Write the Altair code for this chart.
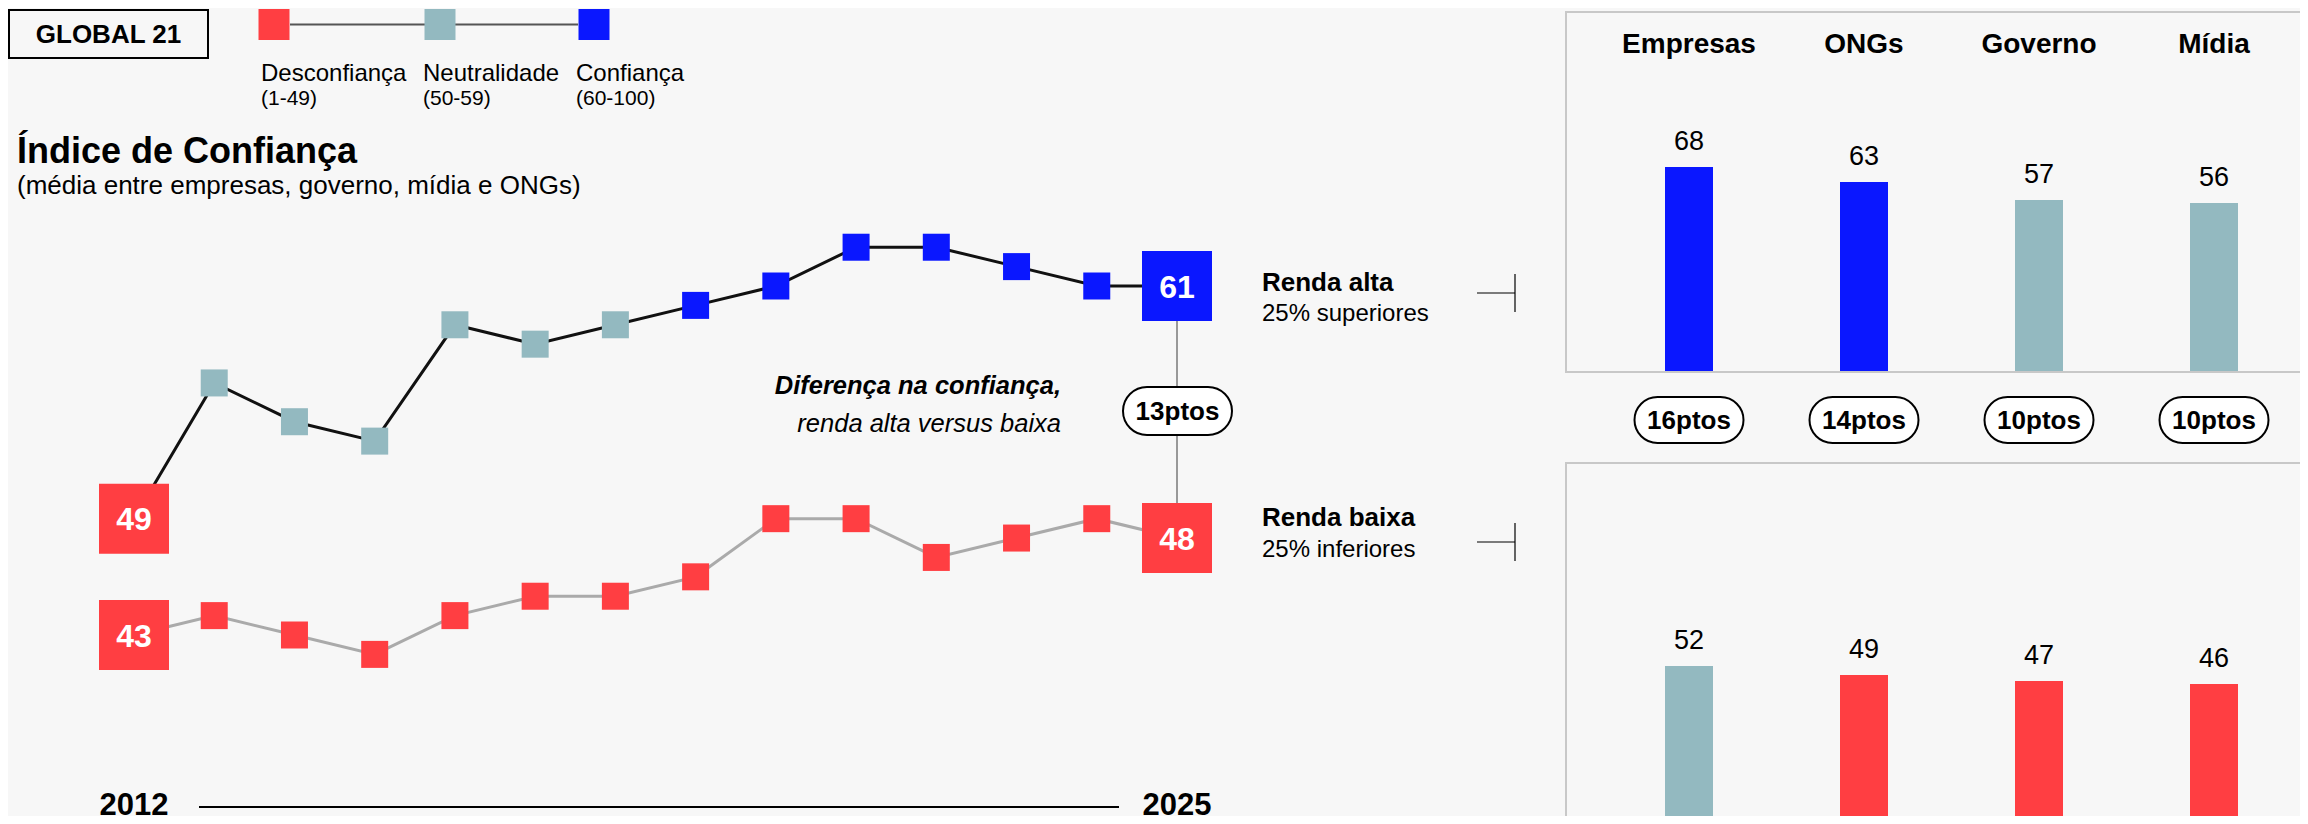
import altair as alt
import pandas as pd

# ---------------- data ----------------
anos = list(range(2012, 2026))
renda_alta = [49, 56, 54, 53, 59, 58, 59, 60, 61, 63, 63, 62, 61, 61]
renda_baixa = [43, 44, 43, 42, 44, 45, 45, 46, 49, 49, 47, 48, 49, 48]

instituicoes = ["Empresas", "ONGs", "Governo", "Mídia"]
alta_inst = [68, 63, 57, 56]
baixa_inst = [52, 49, 47, 46]
diferenca_inst = [16, 14, 10, 10]

categorias = ["Desconfiança", "Neutralidade", "Confiança"]
faixas = ["(1-49)", "(50-59)", "(60-100)"]
cores = ["#ff3e42", "#93b9c0", "#0a17ff"]

# ---------------- style ----------------
FONT = "Liberation Sans"
BG = "#f7f7f7"
CAT = "datum.valor < 50 ? 'Desconfiança' : (datum.valor < 60 ? 'Neutralidade' : 'Confiança')"
color_scale = alt.Scale(domain=categorias, range=cores)

ONE = pd.DataFrame({"k": [0]})


def label(texto, x, y, size, bold=False, italic=False, align="left", color="black"):
    return alt.Chart(ONE).mark_text(
        text=texto, font=FONT, fontSize=size,
        fontWeight="bold" if bold else "normal",
        fontStyle="italic" if italic else "normal",
        align=align, baseline="alphabetic", color=color,
    ).encode(x=alt.value(x), y=alt.value(y))


def rule(x, x2, y, y2, color="black", w=1.5):
    return alt.Chart(ONE).mark_rule(color=color, strokeWidth=w).encode(
        x=alt.value(x), x2=alt.value(x2), y=alt.value(y), y2=alt.value(y2))


def box(x, x2, y, y2, stroke="black", w=2, fill=None, radius=0):
    kw = dict(stroke=stroke, strokeWidth=w, cornerRadius=radius)
    if fill is None:
        kw["fillOpacity"] = 0
        kw["fill"] = BG
    else:
        kw["fill"] = fill
    return alt.Chart(ONE).mark_rect(**kw).encode(
        x=alt.value(x), x2=alt.value(x2), y=alt.value(y), y2=alt.value(y2))


layers = []

# ---------------- header / legend ----------------
layers.append(box(1, 200, 2, 50))
layers.append(label("GLOBAL 21", 100.5, 35, 26, bold=True, align="center"))
layers.append(rule(282, 570, 16.5, 16.5, color="#555555", w=2))
leg_x = [266, 432, 586]
leg_tx = [253, 415, 568]
for cat, faixa, cor, lx, tx in zip(categorias, faixas, cores, leg_x, leg_tx):
    layers.append(alt.Chart(ONE).mark_square(size=961, color=cor, opacity=1).encode(
        x=alt.value(lx), y=alt.value(16.5)))
    layers.append(label(cat, tx, 73, 24))
    layers.append(label(faixa, tx, 97, 21))

layers.append(label("Índice de Confiança", 9, 155, 36, bold=True))
layers.append(label("(média entre empresas, governo, mídia e ONGs)", 9, 186, 26))

# ---------------- line chart ----------------
linhas = pd.DataFrame({
    "ano": anos * 2,
    "valor": renda_alta + renda_baixa,
    "grupo": ["alta"] * len(anos) + ["baixa"] * len(anos),
})
x_scale = alt.Scale(domain=[anos[0], anos[-1]], range=[126, 1169], nice=False, zero=False)
y_scale = alt.Scale(domain=[43, 61], range=[627, 278], nice=False, zero=False)
X = alt.X("ano:Q", scale=x_scale, axis=None)
Y = alt.Y("valor:Q", scale=y_scale, axis=None)

base = alt.Chart(linhas)
layers.append(base.transform_filter("datum.grupo == 'baixa'").mark_line(
    color="#aaaaaa", strokeWidth=3).encode(x=X, y=Y))
layers.append(base.transform_filter("datum.grupo == 'alta'").mark_line(
    color="#111111", strokeWidth=3).encode(x=X, y=Y))

diff = pd.DataFrame({"ano": [anos[-1]], "alta": [renda_alta[-1]], "baixa": [renda_baixa[-1]]})
layers.append(alt.Chart(diff).mark_rule(color="#999999", strokeWidth=2).encode(
    x=X, y=alt.Y("alta:Q", scale=y_scale, axis=None), y2="baixa:Q"))

first_last = f"datum.ano == {anos[0]} || datum.ano == {anos[-1]}"
layers.append(base.transform_calculate(
    cat=CAT, sz=f"({first_last}) ? 4900 : 729"
).mark_square(opacity=1).encode(
    x=X, y=Y,
    color=alt.Color("cat:N", scale=color_scale, legend=None),
    size=alt.Size("sz:Q", scale=None),
))
layers.append(base.transform_filter(first_last).mark_text(
    font=FONT, fontSize=32, fontWeight="bold", color="white",
    baseline="alphabetic", dy=11.5).encode(x=X, y=Y, text="valor:Q"))

# difference pill
layers.append(box(1115, 1224, 379, 427, fill="white", radius=24))
layers.append(label(f"{renda_alta[-1] - renda_baixa[-1]}ptos", 1169.5, 412, 26, bold=True, align="center"))
layers.append(label("Diferença na confiança,", 1053, 386, 25.5, bold=True, italic=True, align="right"))
layers.append(label("renda alta versus baixa", 1053, 424, 25.5, italic=True, align="right"))

# year axis
ends = pd.DataFrame({"ano": [anos[0], anos[-1]]})
layers.append(alt.Chart(ends).mark_text(
    font=FONT, fontSize=31, fontWeight="bold", baseline="alphabetic").encode(
    x=X, y=alt.value(807), text="ano:N"))
layers.append(rule(191, 1111, 799, 799, w=2))

# group labels + connectors
layers.append(label("Renda alta", 1254, 283, 26, bold=True))
layers.append(label("25% superiores", 1254, 313, 24))
layers.append(label("Renda baixa", 1254, 518, 26, bold=True))
layers.append(label("25% inferiores", 1254, 549, 24))
layers.append(rule(1469, 1507, 285, 285, w=1.2))
layers.append(rule(1507, 1507, 266, 304, w=1.2))
layers.append(rule(1469, 1507, 534, 534, w=1.2))
layers.append(rule(1507, 1507, 515, 553, w=1.2))

# ---------------- institution bars ----------------
inst = pd.DataFrame({
    "inst": instituicoes,
    "alta": alta_inst,
    "baixa": baixa_inst,
    "dif": diferenca_inst,
})
band = alt.Scale(domain=instituicoes, range=[1593.5, 2293.5],
                 paddingInner=1 - 48 / 175, paddingOuter=(1 - 48 / 175) / 2)
pill_band = alt.Scale(domain=instituicoes, range=[1593.5, 2293.5],
                      paddingInner=1 - 109 / 175, paddingOuter=(1 - 109 / 175) / 2)
XB = alt.X("inst:N", scale=band, axis=None, sort=instituicoes)
y_top = alt.Scale(domain=[0, 100], range=[363, 63], nice=False, zero=False)
y_bot = alt.Scale(domain=[0, 100], range=[814, 514], nice=False, zero=False)

layers.append(box(1558, 2420, 4, 364, stroke="#c8c8c8", w=2))
layers.append(box(1558, 2420, 455, 815, stroke="#c8c8c8", w=2))

ib = alt.Chart(inst)
for field, ysc in (("alta", y_top), ("baixa", y_bot)):
    calc = ib.transform_calculate(valor=f"datum.{field}").transform_calculate(cat=CAT)
    layers.append(calc.mark_bar().encode(
        x=XB,
        y=alt.Y("valor:Q", scale=ysc, axis=None),
        color=alt.Color("cat:N", scale=color_scale, legend=None),
    ))
    layers.append(calc.mark_text(font=FONT, fontSize=27, baseline="alphabetic", dy=-17).encode(
        x=XB, y=alt.Y("valor:Q", scale=ysc, axis=None), text="valor:Q"))

layers.append(ib.mark_text(font=FONT, fontSize=28, fontWeight="bold", baseline="alphabetic").encode(
    x=XB, y=alt.value(44.5), text="inst:N"))
layers.append(ib.mark_rect(fill="white", stroke="black", strokeWidth=2, cornerRadius=23).encode(
    x=alt.X("inst:N", scale=pill_band, axis=None, sort=instituicoes),
    y=alt.value(389), y2=alt.value(435)))
layers.append(ib.transform_calculate(t="datum.dif + 'ptos'").mark_text(
    font=FONT, fontSize=26, fontWeight="bold", baseline="alphabetic").encode(
    x=XB, y=alt.value(421), text="t:N"))

chart = alt.layer(*layers).resolve_scale(
    x="independent", y="independent"
).properties(
    width=2292, height=808, padding=0, background=BG,
    autosize=alt.AutoSizeParams(type="none"),
).configure_view(stroke=None)

chart.save("out.html", embed_options={"renderer": "svg", "actions": False})
